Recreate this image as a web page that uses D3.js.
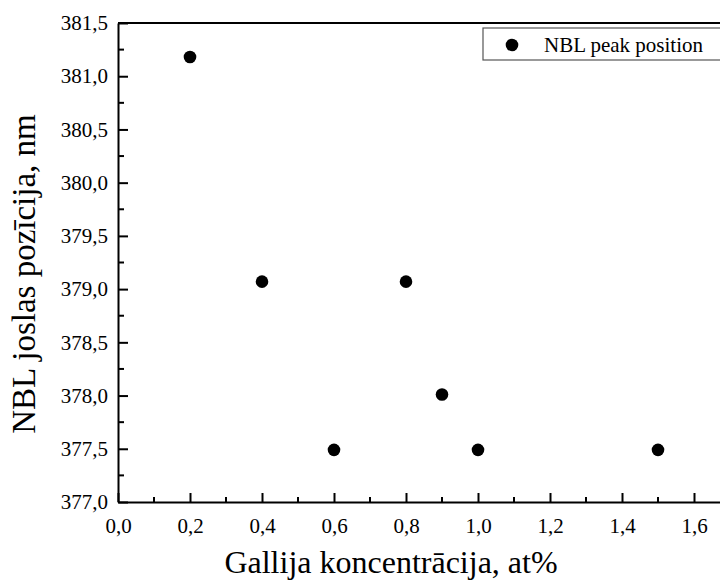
<!DOCTYPE html>
<html><head><meta charset="utf-8">
<script src="https://cdn.jsdelivr.net/npm/d3@7"></script>
<style>body{margin:0;background:#fff}svg{display:block}</style>
</head><body>
<script>
const concentration = [0.2, 0.4, 0.6, 0.8, 0.9, 1.0, 1.5];
const peakPosition = [381.18, 379.07, 377.49, 379.07, 378.01, 377.49, 377.49];
const xMajorTicks = [0, 0.2, 0.4, 0.6, 0.8, 1.0, 1.2, 1.4, 1.6];
const xMinorTicks = [0.1, 0.3, 0.5, 0.7, 0.9, 1.1, 1.3, 1.5, 1.7];
const yMajorTicks = [377, 377.5, 378, 378.5, 379, 379.5, 380, 380.5, 381, 381.5];
const yMinorTicks = [377.25, 377.75, 378.25, 378.75, 379.25, 379.75, 380.25, 380.75, 381.25];
const seriesName = "NBL peak position";
const xTitle = "Gallija koncentrācija, at%";
const yTitle = "NBL joslas pozīcija, nm";

const FONT = "'Liberation Serif', 'Times New Roman', Times, serif";
const W = 720, H = 580;
const L = 118, R = 730, T = 23, B = 502;
const svg = d3.select("body").append("svg").attr("width", W).attr("height", H);
const x = d3.scaleLinear().domain([0, 1.7]).range([L, R]);
const y = d3.scaleLinear().domain([377, 381.5]).range([B, T]);
const fmt = v => d3.format(".1f")(v).replace(".", ",");

svg.append("line").attr("x1", L).attr("x2", R).attr("y1", T).attr("y2", T)
  .attr("stroke", "#000").attr("stroke-width", 2);

const gx = svg.append("g").attr("transform", `translate(0,${B})`)
  .call(d3.axisBottom(x).tickValues(xMajorTicks).tickSizeInner(-9).tickSizeOuter(0).tickPadding(16).tickFormat(fmt));
gx.attr("font-family", null).attr("font-size", null);
gx.select(".domain").attr("stroke-width", 2);
gx.selectAll(".tick line").attr("stroke-width", 2);
gx.selectAll("text").style("font-family", FONT).style("font-size", "21px").attr("fill", "#000");
gx.selectAll(".minor").data(xMinorTicks).enter().append("line")
  .attr("x1", d => x(d)).attr("x2", d => x(d)).attr("y1", 0).attr("y2", -5)
  .attr("stroke", "#000").attr("stroke-width", 2);

const gy = svg.append("g").attr("transform", `translate(${L},0)`)
  .call(d3.axisLeft(y).tickValues(yMajorTicks).tickSizeInner(-10).tickSizeOuter(0).tickPadding(10).tickFormat(fmt));
gy.attr("font-family", null).attr("font-size", null);
gy.select(".domain").attr("stroke-width", 2);
gy.selectAll(".tick line").attr("stroke-width", 2);
gy.selectAll("text").style("font-family", FONT).style("font-size", "21px").attr("fill", "#000");
gy.selectAll(".minor").data(yMinorTicks).enter().append("line")
  .attr("y1", d => y(d)).attr("y2", d => y(d)).attr("x1", 0).attr("x2", 6)
  .attr("stroke", "#000").attr("stroke-width", 2);

svg.append("g").selectAll("circle").data(concentration).enter().append("circle")
  .attr("cx", d => x(d)).attr("cy", (d, i) => y(peakPosition[i])).attr("r", 6.3).attr("fill", "#000");

const lg = svg.append("g");
lg.append("rect").attr("x", 483).attr("y", 28).attr("width", 260).attr("height", 32)
  .attr("fill", "#fff").attr("stroke", "#555").attr("stroke-width", 1.2);
lg.append("circle").attr("cx", 512).attr("cy", 45).attr("r", 6.3).attr("fill", "#000");
lg.append("text").attr("x", 544).attr("y", 52).style("font-family", FONT).style("font-size", "21px").text(seriesName);

svg.append("text").attr("x", 391).attr("y", 573).attr("text-anchor", "middle")
  .style("font-family", FONT).style("font-size", "32px").text(xTitle);
svg.append("text").attr("transform", "translate(35,274) rotate(-90)")
  .attr("text-anchor", "middle").style("font-family", FONT).style("font-size", "33px").text(yTitle);
</script>
</body></html>
